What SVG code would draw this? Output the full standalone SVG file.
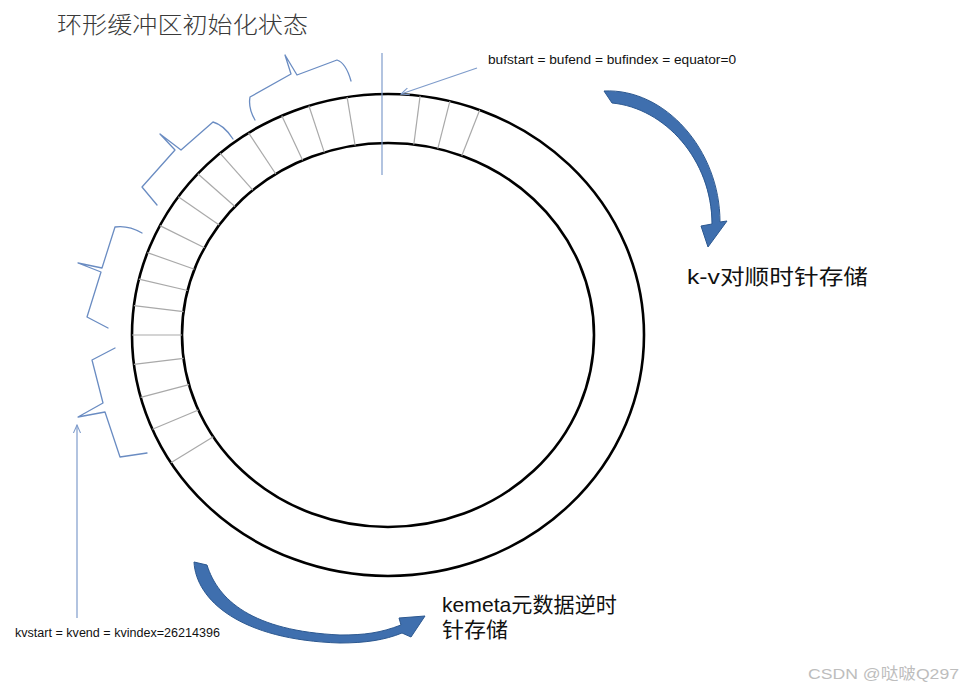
<svg xmlns="http://www.w3.org/2000/svg" width="965" height="691" viewBox="0 0 965 691">
<defs>
<style>
.ring{fill:none;stroke:#000;stroke-width:2.6}
.tick{stroke:#a9a9a9;stroke-width:1.2}
.brace{fill:none;stroke:#6a8cc2;stroke-width:1.3;stroke-linejoin:round;stroke-linecap:round}
.ptr{fill:none;stroke:#7f9ccb;stroke-width:1.2}
.bigarrow{fill:#3f6fae;stroke:#2c5890;stroke-width:1}
.lbl{font-family:"Liberation Sans","Noto Sans CJK SC",sans-serif;fill:#111}
.cjk{font-family:"Noto Sans CJK SC","Liberation Sans",sans-serif}
</style>
<marker id="open" viewBox="0 0 10 10" refX="9" refY="5" markerWidth="9" markerHeight="9" orient="auto" markerUnits="userSpaceOnUse">
<path d="M0,1 L9,5 L0,9" fill="none" stroke="#7f9ccb" stroke-width="1.2"/>
</marker>
</defs>
<rect width="965" height="691" fill="#fff"/>

<g id="title">
<text x="57" y="33" class="cjk" font-size="23" font-weight="300" fill="#3a3a3a" textLength="251" lengthAdjust="spacingAndGlyphs">环形缓冲区初始化状态</text>
</g>

<g id="ring">
<ellipse class="ring" cx="388" cy="335" rx="256" ry="241"/>
<ellipse class="ring" cx="388" cy="335" rx="206" ry="192"/>
</g>

<g id="ticks">
<line class="tick" x1="479.7" y1="110" x2="461.8" y2="155.8"/>
<line class="tick" x1="449.9" y1="101.2" x2="437.8" y2="148.7"/>
<line class="tick" x1="420.1" y1="95.9" x2="413.8" y2="144.5"/>
<line class="tick" x1="347.1" y1="97.1" x2="355.1" y2="145.5"/>
<line class="tick" x1="308.9" y1="105.8" x2="324.3" y2="152.4"/>
<line class="tick" x1="281.8" y1="115.7" x2="302.6" y2="160.3"/>
<line class="tick" x1="248.6" y1="132.9" x2="275.8" y2="174"/>
<line class="tick" x1="220" y1="153.1" x2="252.8" y2="190.1"/>
<line class="tick" x1="197.8" y1="173.7" x2="234.9" y2="206.5"/>
<line class="tick" x1="178.3" y1="196.8" x2="219.2" y2="224.9"/>
<line class="tick" x1="159.9" y1="225.6" x2="204.5" y2="247.8"/>
<line class="tick" x1="147.4" y1="252.6" x2="194.4" y2="269.3"/>
<line class="tick" x1="138.9" y1="279.2" x2="187.6" y2="290.5"/>
<line class="tick" x1="133.9" y1="305.6" x2="183.5" y2="311.6"/>
<line class="tick" x1="132" y1="335" x2="182" y2="335"/>
<line class="tick" x1="133.9" y1="364.4" x2="183.5" y2="358.4"/>
<line class="tick" x1="140.7" y1="397.4" x2="189" y2="384.7"/>
<line class="tick" x1="152.4" y1="429.2" x2="198.4" y2="410"/>
<line class="tick" x1="170.9" y1="462.7" x2="213.3" y2="436.7"/>
</g>

<g id="braces">
<path class="brace" d="M255,120 Q248,108 250,97 L291,74 L285,55 L297,75 L337,60 Q346,63 351,81"/>
<path class="brace" d="M157,205 L142,187 L175,150 L160,134 L181,150 L213,122 Q224,125 233,139"/>
<path class="brace" d="M142,233 Q128,225 115,227 L102,268 L78,263 L101,272 L87,317 L108,328"/>
<path class="brace" d="M115,348 L92,360 L103,403 L78,417 L105,412 L120,457 L147,453"/>
</g>

<g id="connectors">
<line class="ptr" x1="382" y1="53" x2="382" y2="175"/>
<line class="ptr" x1="477" y1="68" x2="401" y2="94" marker-end="url(#open)"/>
<line class="ptr" x1="77" y1="618" x2="77" y2="425" marker-end="url(#open)"/>
<path id="cw-arrow" class="bigarrow" d="M604,91 C665,88 720,150 720,222 L727,221 L708,247 L701,226 L712,224 C712,160 665,108 612,103 Z"/>
<path id="ccw-arrow" class="bigarrow" d="M194,562 C196,600 240,640 340,643 C365,643 385,640 402,633 L411,637 L425,616 L399,618 L401,625 C380,633 365,635 340,635 C252,631 218,600 207,565 Z"/>
</g>

<g id="label-buf">
<text x="488" y="64" class="lbl" font-size="12" textLength="248" lengthAdjust="spacingAndGlyphs">bufstart = bufend = bufindex = equator=0</text>
</g>
<g id="label-kv">
<text x="15" y="637" class="lbl" font-size="12" textLength="205" lengthAdjust="spacingAndGlyphs">kvstart = kvend = kvindex=26214396</text>
</g>
<g id="label-cw">
<text x="687" y="284" class="lbl" font-size="21" fill="#222" textLength="181" lengthAdjust="spacingAndGlyphs">k-v对顺时针存储</text>
</g>
<g id="label-ccw">
<text x="442" y="612" class="lbl" font-size="21" fill="#222" textLength="175" lengthAdjust="spacingAndGlyphs">kemeta元数据逆时</text>
<text x="442" y="637" class="lbl" font-size="21" fill="#222" textLength="66" lengthAdjust="spacingAndGlyphs">针存储</text>
</g>
<g id="watermark">
<text x="808" y="679" font-family="Liberation Sans,Noto Sans CJK SC,sans-serif" font-size="15.5" fill="#bdbdbd" textLength="151" lengthAdjust="spacingAndGlyphs">CSDN @哒啵Q297</text>
</g>
</svg>
